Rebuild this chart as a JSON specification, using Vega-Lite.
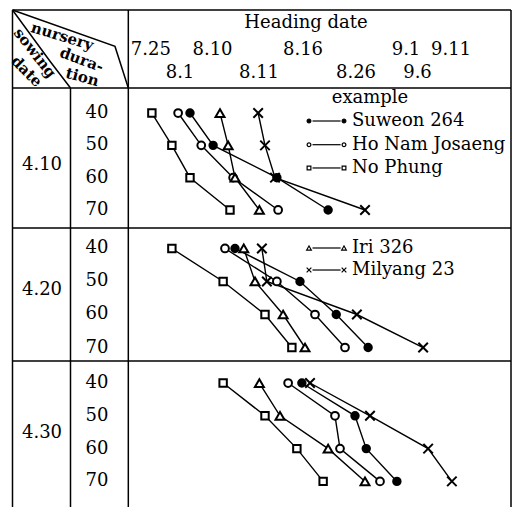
{
  "$schema": "https://vega.github.io/schema/vega-lite/v6.json",
  "padding": {"left": 0, "top": 7, "right": 0, "bottom": 0},
  "spacing": 0,
  "bounds": "flush",
  "background": "white",
  "config": {
    "view": {"stroke": null},
    "text": {"font": "DejaVu Serif", "fontSize": 18, "color": "black"},
    "line": {"color": "black", "strokeWidth": 1.4},
    "rule": {"color": "black", "strokeWidth": 1.5},
    "concat": {"spacing": 0}
  },
  "datasets": {
    "obs": [
      {"sow": "4.10", "variety": "Suweon 264", "dur": 40, "day": 6.4},
      {"sow": "4.10", "variety": "Suweon 264", "dur": 50, "day": 10.1},
      {"sow": "4.10", "variety": "Suweon 264", "dur": 60, "day": 20.3},
      {"sow": "4.10", "variety": "Suweon 264", "dur": 70, "day": 28.5},
      {"sow": "4.10", "variety": "Ho Nam Josaeng", "dur": 40, "day": 4.5},
      {"sow": "4.10", "variety": "Ho Nam Josaeng", "dur": 50, "day": 8.2},
      {"sow": "4.10", "variety": "Ho Nam Josaeng", "dur": 60, "day": 13.3},
      {"sow": "4.10", "variety": "Ho Nam Josaeng", "dur": 70, "day": 20.5},
      {"sow": "4.10", "variety": "No Phung", "dur": 40, "day": 0.3},
      {"sow": "4.10", "variety": "No Phung", "dur": 50, "day": 3.5},
      {"sow": "4.10", "variety": "No Phung", "dur": 60, "day": 6.4},
      {"sow": "4.10", "variety": "No Phung", "dur": 70, "day": 12.8},
      {"sow": "4.10", "variety": "Iri 326", "dur": 40, "day": 11.2},
      {"sow": "4.10", "variety": "Iri 326", "dur": 50, "day": 12.5},
      {"sow": "4.10", "variety": "Iri 326", "dur": 60, "day": 13.6},
      {"sow": "4.10", "variety": "Iri 326", "dur": 70, "day": 17.5},
      {"sow": "4.10", "variety": "Milyang 23", "dur": 40, "day": 17.3},
      {"sow": "4.10", "variety": "Milyang 23", "dur": 50, "day": 18.4},
      {"sow": "4.10", "variety": "Milyang 23", "dur": 60, "day": 20.0},
      {"sow": "4.10", "variety": "Milyang 23", "dur": 70, "day": 34.4},
      {"sow": "4.20", "variety": "Suweon 264", "dur": 40, "day": 13.6},
      {"sow": "4.20", "variety": "Suweon 264", "dur": 50, "day": 24.0},
      {"sow": "4.20", "variety": "Suweon 264", "dur": 60, "day": 29.8},
      {"sow": "4.20", "variety": "Suweon 264", "dur": 70, "day": 34.9},
      {"sow": "4.20", "variety": "Ho Nam Josaeng", "dur": 40, "day": 12.0},
      {"sow": "4.20", "variety": "Ho Nam Josaeng", "dur": 50, "day": 20.3},
      {"sow": "4.20", "variety": "Ho Nam Josaeng", "dur": 60, "day": 26.4},
      {"sow": "4.20", "variety": "Ho Nam Josaeng", "dur": 70, "day": 31.2},
      {"sow": "4.20", "variety": "No Phung", "dur": 40, "day": 3.5},
      {"sow": "4.20", "variety": "No Phung", "dur": 50, "day": 11.7},
      {"sow": "4.20", "variety": "No Phung", "dur": 60, "day": 18.4},
      {"sow": "4.20", "variety": "No Phung", "dur": 70, "day": 22.7},
      {"sow": "4.20", "variety": "Iri 326", "dur": 40, "day": 15.0},
      {"sow": "4.20", "variety": "Iri 326", "dur": 50, "day": 16.8},
      {"sow": "4.20", "variety": "Iri 326", "dur": 60, "day": 21.3},
      {"sow": "4.20", "variety": "Iri 326", "dur": 70, "day": 24.8},
      {"sow": "4.20", "variety": "Milyang 23", "dur": 40, "day": 17.9},
      {"sow": "4.20", "variety": "Milyang 23", "dur": 50, "day": 18.7},
      {"sow": "4.20", "variety": "Milyang 23", "dur": 60, "day": 33.1},
      {"sow": "4.20", "variety": "Milyang 23", "dur": 70, "day": 43.7},
      {"sow": "4.30", "variety": "Suweon 264", "dur": 40, "day": 24.3},
      {"sow": "4.30", "variety": "Suweon 264", "dur": 50, "day": 32.8},
      {"sow": "4.30", "variety": "Suweon 264", "dur": 60, "day": 34.6},
      {"sow": "4.30", "variety": "Suweon 264", "dur": 70, "day": 39.5},
      {"sow": "4.30", "variety": "Ho Nam Josaeng", "dur": 40, "day": 22.1},
      {"sow": "4.30", "variety": "Ho Nam Josaeng", "dur": 50, "day": 29.6},
      {"sow": "4.30", "variety": "Ho Nam Josaeng", "dur": 60, "day": 30.4},
      {"sow": "4.30", "variety": "Ho Nam Josaeng", "dur": 70, "day": 36.8},
      {"sow": "4.30", "variety": "No Phung", "dur": 40, "day": 11.7},
      {"sow": "4.30", "variety": "No Phung", "dur": 50, "day": 18.4},
      {"sow": "4.30", "variety": "No Phung", "dur": 60, "day": 23.5},
      {"sow": "4.30", "variety": "No Phung", "dur": 70, "day": 27.7},
      {"sow": "4.30", "variety": "Iri 326", "dur": 40, "day": 17.5},
      {"sow": "4.30", "variety": "Iri 326", "dur": 50, "day": 20.8},
      {"sow": "4.30", "variety": "Iri 326", "dur": 60, "day": 28.5},
      {"sow": "4.30", "variety": "Iri 326", "dur": 70, "day": 34.4},
      {"sow": "4.30", "variety": "Milyang 23", "dur": 40, "day": 25.6},
      {"sow": "4.30", "variety": "Milyang 23", "dur": 50, "day": 35.2},
      {"sow": "4.30", "variety": "Milyang 23", "dur": 60, "day": 44.5},
      {"sow": "4.30", "variety": "Milyang 23", "dur": 70, "day": 48.3}
    ],
    "legend": [
      {"sow": "4.10", "variety": "Suweon 264", "dur": 42.47},
      {"sow": "4.10", "variety": "Ho Nam Josaeng", "dur": 49.8},
      {"sow": "4.10", "variety": "No Phung", "dur": 57.0},
      {"sow": "4.20", "variety": "Iri 326", "dur": 39.85},
      {"sow": "4.20", "variety": "Milyang 23", "dur": 46.52}
    ],
    "headerLabels": [
      {"label": "Heading date", "day": 24.96, "level": 0.5},
      {"label": "7.25", "day": 0.13, "level": 1.54},
      {"label": "8.10", "day": 10.0, "level": 1.54},
      {"label": "8.16", "day": 24.48, "level": 1.54},
      {"label": "9.1", "day": 40.96, "level": 1.54},
      {"label": "9.11", "day": 48.16, "level": 1.54},
      {"label": "8.1", "day": 4.8, "level": 2.42},
      {"label": "8.11", "day": 17.44, "level": 2.42},
      {"label": "8.26", "day": 32.96, "level": 2.42},
      {"label": "9.6", "day": 42.8, "level": 2.42}
    ],
    "cornerWords": [
      {"label": "nursery", "day": -14.03, "level": 1.01},
      {"label": "dura-", "day": -10.93, "level": 1.91},
      {"label": "tion", "day": -10.83, "level": 2.58},
      {"label": "sowing", "day": -18.4, "level": 1.65},
      {"label": "date", "day": -19.73, "level": 2.36}
    ],
    "cornerLines": [
      {"seg": "a", "o": 0, "day": -22.0, "level": 0},
      {"seg": "a", "o": 1, "day": -16.0, "level": 1.97},
      {"seg": "a", "o": 2, "day": -12.72, "level": 3},
      {"seg": "b", "o": 0, "day": -22.0, "level": 0},
      {"seg": "b", "o": 1, "day": -5.6, "level": 1.4},
      {"seg": "b", "o": 2, "day": -3.47, "level": 3}
    ]
  },
  "vconcat": [
    {
      "width": 513, "height": 78,
      "layer": [
        {"data": {"values": [{"day": -22.0}, {"day": -3.47}, {"day": 57.76}]}, "mark": "rule",
         "encoding": {"x": {"field": "day", "type": "quantitative", "scale": {"domain": [-24, 58.08], "nice": false, "zero": false}, "axis": null}}},
        {"data": {"values": [{}]}, "mark": "rule",
         "encoding": {"x": {"datum": -22.0, "scale": {"domain": [-24, 58.08], "nice": false, "zero": false}, "axis": null}, "x2": {"datum": 57.76},
                      "y": {"datum": 0, "scale": {"domain": [0, 3], "reverse": true, "nice": false, "zero": false}, "axis": null}}},
        {"data": {"name": "cornerLines"}, "mark": {"type": "line", "strokeWidth": 1.5},
         "encoding": {"x": {"field": "day", "type": "quantitative", "scale": {"domain": [-24, 58.08], "nice": false, "zero": false}, "axis": null},
                      "y": {"field": "level", "type": "quantitative", "scale": {"domain": [0, 3], "reverse": true, "nice": false, "zero": false}, "axis": null},
                      "detail": {"field": "seg"}, "order": {"field": "o"}}},
        {"data": {"name": "headerLabels"}, "mark": "text",
         "encoding": {"x": {"field": "day", "type": "quantitative", "scale": {"domain": [-24, 58.08], "nice": false, "zero": false}, "axis": null},
                      "y": {"field": "level", "type": "quantitative", "scale": {"domain": [0, 3], "reverse": true, "nice": false, "zero": false}, "axis": null},
                      "text": {"field": "label"}}},
        {"data": {"name": "cornerWords"}, "mark": {"type": "text", "fontSize": 15, "fontWeight": "bold"},
         "encoding": {"x": {"field": "day", "type": "quantitative", "scale": {"domain": [-24, 58.08], "nice": false, "zero": false}, "axis": null},
                      "y": {"field": "level", "type": "quantitative", "scale": {"domain": [0, 3], "reverse": true, "nice": false, "zero": false}, "axis": null},
                      "angle": {"field": "label", "type": "nominal", "scale": {"type": "ordinal", "domain": ["nursery", "dura-", "tion", "sowing", "date"], "range": [17, 20, 15, 52, 45]}, "legend": null},
                      "text": {"field": "label"}}}
      ]
    },
    {
      "width": 513, "height": 140,
      "layer": [
        {"data": {"values": [{"day": -22.0}, {"day": -12.72}, {"day": -3.47}, {"day": 57.76}]}, "mark": "rule",
         "encoding": {"x": {"field": "day", "type": "quantitative", "scale": {"domain": [-24, 58.08], "nice": false, "zero": false}, "axis": null}}},
        {"data": {"values": [{}]}, "mark": "rule",
         "encoding": {"x": {"datum": -22.0, "scale": {"domain": [-24, 58.08], "nice": false, "zero": false}, "axis": null}, "x2": {"datum": 57.76},
                      "y": {"datum": 32.26, "scale": {"domain": [32.26, 75.57], "reverse": true, "nice": false, "zero": false}, "axis": null}}},
        {"data": {"values": [{"sow": "4.10"}]}, "mark": "text",
         "encoding": {"x": {"datum": -17.28, "scale": {"domain": [-24, 58.08], "nice": false, "zero": false}, "axis": null},
                      "y": {"datum": 56.0, "scale": {"domain": [32.26, 75.57], "reverse": true, "nice": false, "zero": false}, "axis": null},
                      "text": {"field": "sow"}}},
        {"data": {"values": [{"dur": 40}, {"dur": 50}, {"dur": 60}, {"dur": 70}]}, "mark": "text",
         "encoding": {"x": {"datum": -8.48, "scale": {"domain": [-24, 58.08], "nice": false, "zero": false}, "axis": null},
                      "y": {"field": "dur", "type": "quantitative", "scale": {"domain": [32.26, 75.57], "reverse": true, "nice": false, "zero": false}, "axis": null},
                      "text": {"field": "dur"}}},
        {"data": {"name": "obs"}, "transform": [{"filter": "datum.sow === '4.10'"}],
         "encoding": {"x": {"field": "day", "type": "quantitative", "scale": {"domain": [-24, 58.08], "nice": false, "zero": false}, "axis": null},
                      "y": {"field": "dur", "type": "quantitative", "scale": {"domain": [32.26, 75.57], "reverse": true, "nice": false, "zero": false}, "axis": null}},
         "layer": [
           {"mark": "line", "encoding": {"detail": {"field": "variety"}, "order": {"field": "dur"}}},
           {"mark": {"type": "point", "filled": true, "stroke": "black", "strokeWidth": 2, "opacity": 1},
            "encoding": {
              "shape": {"field": "variety", "type": "nominal", "scale": {"type": "ordinal", "domain": ["Suweon 264", "Ho Nam Josaeng", "No Phung", "Iri 326", "Milyang 23"], "range": ["circle", "circle", "square", "triangle-up", "M-1,-1L1,1M1,-1L-1,1"]}, "legend": null},
              "fill": {"field": "variety", "type": "nominal", "scale": {"type": "ordinal", "domain": ["Suweon 264", "Ho Nam Josaeng", "No Phung", "Iri 326", "Milyang 23"], "range": ["black", "white", "white", "white", "white"]}, "legend": null},
              "size": {"field": "variety", "type": "nominal", "scale": {"type": "ordinal", "domain": ["Suweon 264", "Ho Nam Josaeng", "No Phung", "Iri 326", "Milyang 23"], "range": [55, 60, 55, 80, 90]}, "legend": null}}}
         ]},
        {"data": {"name": "legend"}, "transform": [{"filter": "datum.sow === '4.10'"}],
         "encoding": {"y": {"field": "dur", "type": "quantitative", "scale": {"domain": [32.26, 75.57], "reverse": true, "nice": false, "zero": false}, "axis": null}},
         "layer": [
           {"mark": {"type": "rule", "strokeWidth": 1.2},
            "encoding": {"x": {"datum": 26.0, "scale": {"domain": [-24, 58.08], "nice": false, "zero": false}, "axis": null}, "x2": {"datum": 30.5}}},
           {"mark": {"type": "point", "filled": true, "stroke": "black", "strokeWidth": 1.2, "size": 14, "opacity": 1},
            "encoding": {"x": {"datum": 25.44, "scale": {"domain": [-24, 58.08], "nice": false, "zero": false}, "axis": null},
              "shape": {"field": "variety", "type": "nominal", "scale": {"type": "ordinal", "domain": ["Suweon 264", "Ho Nam Josaeng", "No Phung", "Iri 326", "Milyang 23"], "range": ["circle", "circle", "square", "triangle-up", "M-1,-1L1,1M1,-1L-1,1"]}, "legend": null},
              "fill": {"field": "variety", "type": "nominal", "scale": {"type": "ordinal", "domain": ["Suweon 264", "Ho Nam Josaeng", "No Phung", "Iri 326", "Milyang 23"], "range": ["black", "white", "white", "white", "white"]}, "legend": null}}},
           {"mark": {"type": "point", "filled": true, "stroke": "black", "strokeWidth": 1.2, "size": 14, "opacity": 1},
            "encoding": {"x": {"datum": 31.04, "scale": {"domain": [-24, 58.08], "nice": false, "zero": false}, "axis": null},
              "shape": {"field": "variety", "type": "nominal", "scale": {"type": "ordinal", "domain": ["Suweon 264", "Ho Nam Josaeng", "No Phung", "Iri 326", "Milyang 23"], "range": ["circle", "circle", "square", "triangle-up", "M-1,-1L1,1M1,-1L-1,1"]}, "legend": null},
              "fill": {"field": "variety", "type": "nominal", "scale": {"type": "ordinal", "domain": ["Suweon 264", "Ho Nam Josaeng", "No Phung", "Iri 326", "Milyang 23"], "range": ["black", "white", "white", "white", "white"]}, "legend": null}}},
           {"mark": {"type": "text", "align": "left"},
            "encoding": {"x": {"datum": 32.32, "scale": {"domain": [-24, 58.08], "nice": false, "zero": false}, "axis": null}, "text": {"field": "variety"}}}
         ]},
        {"data": {"values": [{"label": "example"}]}, "mark": "text",
         "encoding": {"x": {"datum": 35.2, "scale": {"domain": [-24, 58.08], "nice": false, "zero": false}, "axis": null},
                      "y": {"datum": 35.35, "scale": {"domain": [32.26, 75.57], "reverse": true, "nice": false, "zero": false}, "axis": null},
                      "text": {"field": "label"}}}
      ]
    },
    {
      "width": 513, "height": 133,
      "layer": [
        {"data": {"values": [{"day": -22.0}, {"day": -12.72}, {"day": -3.47}, {"day": 57.76}]}, "mark": "rule",
         "encoding": {"x": {"field": "day", "type": "quantitative", "scale": {"domain": [-24, 58.08], "nice": false, "zero": false}, "axis": null}}},
        {"data": {"values": [{}]}, "mark": "rule",
         "encoding": {"x": {"datum": -22.0, "scale": {"domain": [-24, 58.08], "nice": false, "zero": false}, "axis": null}, "x2": {"datum": 57.76},
                      "y": {"datum": 33.79, "scale": {"domain": [33.79, 74.09], "reverse": true, "nice": false, "zero": false}, "axis": null}}},
        {"data": {"values": [{"sow": "4.20"}]}, "mark": "text",
         "encoding": {"x": {"datum": -17.28, "scale": {"domain": [-24, 58.08], "nice": false, "zero": false}, "axis": null},
                      "y": {"datum": 52.7, "scale": {"domain": [33.79, 74.09], "reverse": true, "nice": false, "zero": false}, "axis": null},
                      "text": {"field": "sow"}}},
        {"data": {"values": [{"dur": 40}, {"dur": 50}, {"dur": 60}, {"dur": 70}]}, "mark": "text",
         "encoding": {"x": {"datum": -8.48, "scale": {"domain": [-24, 58.08], "nice": false, "zero": false}, "axis": null},
                      "y": {"field": "dur", "type": "quantitative", "scale": {"domain": [33.79, 74.09], "reverse": true, "nice": false, "zero": false}, "axis": null},
                      "text": {"field": "dur"}}},
        {"data": {"name": "obs"}, "transform": [{"filter": "datum.sow === '4.20'"}],
         "encoding": {"x": {"field": "day", "type": "quantitative", "scale": {"domain": [-24, 58.08], "nice": false, "zero": false}, "axis": null},
                      "y": {"field": "dur", "type": "quantitative", "scale": {"domain": [33.79, 74.09], "reverse": true, "nice": false, "zero": false}, "axis": null}},
         "layer": [
           {"mark": "line", "encoding": {"detail": {"field": "variety"}, "order": {"field": "dur"}}},
           {"mark": {"type": "point", "filled": true, "stroke": "black", "strokeWidth": 2, "opacity": 1},
            "encoding": {
              "shape": {"field": "variety", "type": "nominal", "scale": {"type": "ordinal", "domain": ["Suweon 264", "Ho Nam Josaeng", "No Phung", "Iri 326", "Milyang 23"], "range": ["circle", "circle", "square", "triangle-up", "M-1,-1L1,1M1,-1L-1,1"]}, "legend": null},
              "fill": {"field": "variety", "type": "nominal", "scale": {"type": "ordinal", "domain": ["Suweon 264", "Ho Nam Josaeng", "No Phung", "Iri 326", "Milyang 23"], "range": ["black", "white", "white", "white", "white"]}, "legend": null},
              "size": {"field": "variety", "type": "nominal", "scale": {"type": "ordinal", "domain": ["Suweon 264", "Ho Nam Josaeng", "No Phung", "Iri 326", "Milyang 23"], "range": [55, 60, 55, 80, 90]}, "legend": null}}}
         ]},
        {"data": {"name": "legend"}, "transform": [{"filter": "datum.sow === '4.20'"}],
         "encoding": {"y": {"field": "dur", "type": "quantitative", "scale": {"domain": [33.79, 74.09], "reverse": true, "nice": false, "zero": false}, "axis": null}},
         "layer": [
           {"mark": {"type": "rule", "strokeWidth": 1.2},
            "encoding": {"x": {"datum": 26.0, "scale": {"domain": [-24, 58.08], "nice": false, "zero": false}, "axis": null}, "x2": {"datum": 30.5}}},
           {"mark": {"type": "point", "filled": true, "stroke": "black", "strokeWidth": 1.2, "size": 22, "opacity": 1},
            "encoding": {"x": {"datum": 25.44, "scale": {"domain": [-24, 58.08], "nice": false, "zero": false}, "axis": null},
              "shape": {"field": "variety", "type": "nominal", "scale": {"type": "ordinal", "domain": ["Suweon 264", "Ho Nam Josaeng", "No Phung", "Iri 326", "Milyang 23"], "range": ["circle", "circle", "square", "triangle-up", "M-1,-1L1,1M1,-1L-1,1"]}, "legend": null},
              "fill": {"field": "variety", "type": "nominal", "scale": {"type": "ordinal", "domain": ["Suweon 264", "Ho Nam Josaeng", "No Phung", "Iri 326", "Milyang 23"], "range": ["black", "white", "white", "white", "white"]}, "legend": null}}},
           {"mark": {"type": "point", "filled": true, "stroke": "black", "strokeWidth": 1.2, "size": 22, "opacity": 1},
            "encoding": {"x": {"datum": 31.04, "scale": {"domain": [-24, 58.08], "nice": false, "zero": false}, "axis": null},
              "shape": {"field": "variety", "type": "nominal", "scale": {"type": "ordinal", "domain": ["Suweon 264", "Ho Nam Josaeng", "No Phung", "Iri 326", "Milyang 23"], "range": ["circle", "circle", "square", "triangle-up", "M-1,-1L1,1M1,-1L-1,1"]}, "legend": null},
              "fill": {"field": "variety", "type": "nominal", "scale": {"type": "ordinal", "domain": ["Suweon 264", "Ho Nam Josaeng", "No Phung", "Iri 326", "Milyang 23"], "range": ["black", "white", "white", "white", "white"]}, "legend": null}}},
           {"mark": {"type": "text", "align": "left"},
            "encoding": {"x": {"datum": 32.32, "scale": {"domain": [-24, 58.08], "nice": false, "zero": false}, "axis": null}, "text": {"field": "variety"}}}
         ]}
      ]
    },
    {
      "width": 513, "height": 149,
      "layer": [
        {"data": {"values": [{"day": -22.0}, {"day": -12.72}, {"day": -3.47}, {"day": 57.76}]}, "mark": "rule",
         "encoding": {"x": {"field": "day", "type": "quantitative", "scale": {"domain": [-24, 58.08], "nice": false, "zero": false}, "axis": null}}},
        {"data": {"values": [{}]}, "mark": "rule",
         "encoding": {"x": {"datum": -22.0, "scale": {"domain": [-24, 58.08], "nice": false, "zero": false}, "axis": null}, "x2": {"datum": 57.76},
                      "y": {"datum": 33.29, "scale": {"domain": [33.29, 78.72], "reverse": true, "nice": false, "zero": false}, "axis": null}}},
        {"data": {"values": [{"sow": "4.30"}]}, "mark": "text",
         "encoding": {"x": {"datum": -17.28, "scale": {"domain": [-24, 58.08], "nice": false, "zero": false}, "axis": null},
                      "y": {"datum": 55.2, "scale": {"domain": [33.29, 78.72], "reverse": true, "nice": false, "zero": false}, "axis": null},
                      "text": {"field": "sow"}}},
        {"data": {"values": [{"dur": 40}, {"dur": 50}, {"dur": 60}, {"dur": 70}]}, "mark": "text",
         "encoding": {"x": {"datum": -8.48, "scale": {"domain": [-24, 58.08], "nice": false, "zero": false}, "axis": null},
                      "y": {"field": "dur", "type": "quantitative", "scale": {"domain": [33.29, 78.72], "reverse": true, "nice": false, "zero": false}, "axis": null},
                      "text": {"field": "dur"}}},
        {"data": {"name": "obs"}, "transform": [{"filter": "datum.sow === '4.30'"}],
         "encoding": {"x": {"field": "day", "type": "quantitative", "scale": {"domain": [-24, 58.08], "nice": false, "zero": false}, "axis": null},
                      "y": {"field": "dur", "type": "quantitative", "scale": {"domain": [33.29, 78.72], "reverse": true, "nice": false, "zero": false}, "axis": null}},
         "layer": [
           {"mark": "line", "encoding": {"detail": {"field": "variety"}, "order": {"field": "dur"}}},
           {"mark": {"type": "point", "filled": true, "stroke": "black", "strokeWidth": 2, "opacity": 1},
            "encoding": {
              "shape": {"field": "variety", "type": "nominal", "scale": {"type": "ordinal", "domain": ["Suweon 264", "Ho Nam Josaeng", "No Phung", "Iri 326", "Milyang 23"], "range": ["circle", "circle", "square", "triangle-up", "M-1,-1L1,1M1,-1L-1,1"]}, "legend": null},
              "fill": {"field": "variety", "type": "nominal", "scale": {"type": "ordinal", "domain": ["Suweon 264", "Ho Nam Josaeng", "No Phung", "Iri 326", "Milyang 23"], "range": ["black", "white", "white", "white", "white"]}, "legend": null},
              "size": {"field": "variety", "type": "nominal", "scale": {"type": "ordinal", "domain": ["Suweon 264", "Ho Nam Josaeng", "No Phung", "Iri 326", "Milyang 23"], "range": [55, 60, 55, 80, 90]}, "legend": null}}}
         ]}
      ]
    }
  ]
}
